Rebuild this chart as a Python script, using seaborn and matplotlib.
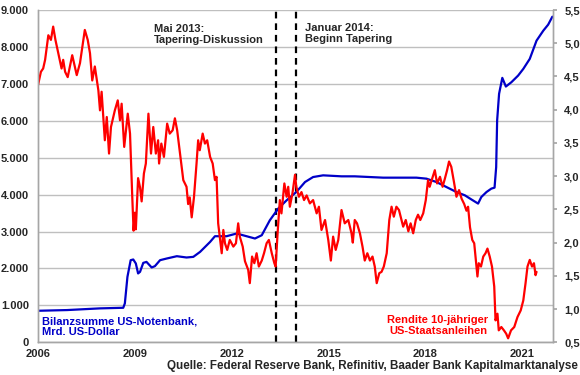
import matplotlib
matplotlib.use("Agg")
import matplotlib.pyplot as plt
from matplotlib.ticker import FuncFormatter, MultipleLocator
import seaborn as sns


# Bilanzsumme US-Notenbank, Mrd. US-Dollar (linke Achse)
fed_years = [2006.00, 2006.90, 2007.92, 2008.64, 2008.69, 2008.77, 2008.87, 2008.95,
             2009.03, 2009.10, 2009.16, 2009.26, 2009.36, 2009.52, 2009.62, 2009.78,
             2009.99, 2010.30, 2010.60, 2010.81, 2011.02, 2011.33, 2011.48, 2011.84,
             2012.15, 2012.46, 2012.72, 2012.93, 2013.18, 2013.44, 2013.70, 2014.00,
             2014.27, 2014.52, 2014.83, 2015.40, 2015.81, 2016.69, 2017.72, 2018.03,
             2018.34, 2018.65, 2018.96, 2019.22, 2019.43, 2019.63, 2019.73, 2019.89,
             2020.04, 2020.14, 2020.19, 2020.22, 2020.28, 2020.38, 2020.49, 2020.66,
             2020.87, 2021.03, 2021.23, 2021.44, 2021.65, 2021.80, 2021.93]
fed_assets = [854, 873, 919, 935, 1054, 1773, 2224, 2243,
              2135, 1865, 1908, 2151, 2178, 2027, 2062, 2224,
              2270, 2332, 2297, 2314, 2449, 2719, 2873, 2873,
              2946, 2873, 2811, 2900, 3305, 3622, 3846, 4070,
              4341, 4476, 4522, 4495, 4495, 4459, 4459, 4432,
              4341, 4205, 4070, 3981, 3865, 3757, 3935, 4070,
              4162, 4189, 4746, 6008, 6730, 7162, 6927, 7043,
              7224, 7405, 7676, 8170, 8441, 8603, 8819]

# Rendite 10-jähriger US-Staatsanleihen in % (rechte Achse)
yield_years = [2006.00, 2006.09, 2006.16, 2006.22, 2006.32, 2006.40, 2006.47, 2006.54,
               2006.65, 2006.73, 2006.78, 2006.84, 2006.92, 2007.06, 2007.20, 2007.30,
               2007.45, 2007.54, 2007.61, 2007.68, 2007.76, 2007.87, 2007.92, 2007.97,
               2008.07, 2008.13, 2008.20, 2008.26, 2008.38, 2008.47, 2008.54, 2008.59,
               2008.67, 2008.78, 2008.85, 2008.92, 2008.96, 2009.00, 2009.03, 2009.10,
               2009.16, 2009.21, 2009.28, 2009.34, 2009.42, 2009.50, 2009.57, 2009.65,
               2009.72, 2009.75, 2009.82, 2009.90, 2010.00, 2010.08, 2010.17, 2010.24,
               2010.31, 2010.40, 2010.50, 2010.60, 2010.65, 2010.70, 2010.76, 2010.83,
               2010.91, 2010.96, 2011.01, 2011.10, 2011.17, 2011.24, 2011.33, 2011.41,
               2011.48, 2011.53, 2011.58, 2011.63, 2011.69, 2011.74, 2011.79, 2011.86,
               2011.94, 2012.05, 2012.13, 2012.20, 2012.25, 2012.34, 2012.41, 2012.51,
               2012.56, 2012.63, 2012.70, 2012.77, 2012.84, 2012.93, 2013.00, 2013.08,
               2013.15, 2013.24, 2013.32, 2013.36, 2013.42, 2013.49, 2013.54, 2013.63,
               2013.70, 2013.75, 2013.80, 2013.88, 2013.96, 2014.00, 2014.08, 2014.16,
               2014.24, 2014.32, 2014.42, 2014.52, 2014.63, 2014.70, 2014.78, 2014.89,
               2014.99, 2015.07, 2015.14, 2015.22, 2015.30, 2015.40, 2015.50, 2015.61,
               2015.71, 2015.75, 2015.81, 2015.88, 2015.97, 2016.05, 2016.12, 2016.20,
               2016.28, 2016.36, 2016.43, 2016.49, 2016.57, 2016.64, 2016.71, 2016.80,
               2016.88, 2016.95, 2017.02, 2017.10, 2017.18, 2017.26, 2017.31, 2017.39,
               2017.47, 2017.54, 2017.62, 2017.70, 2017.77, 2017.84, 2017.93, 2018.01,
               2018.08, 2018.13, 2018.18, 2018.29, 2018.36, 2018.45, 2018.53, 2018.60,
               2018.67, 2018.73, 2018.80, 2018.88, 2018.96, 2019.04, 2019.12, 2019.20,
               2019.27, 2019.32, 2019.38, 2019.45, 2019.51, 2019.55, 2019.61, 2019.65,
               2019.72, 2019.79, 2019.86, 2019.92, 2019.99, 2020.06, 2020.13, 2020.17,
               2020.23, 2020.27, 2020.35, 2020.43, 2020.50, 2020.56, 2020.65, 2020.75,
               2020.85, 2020.95, 2021.03, 2021.10, 2021.16, 2021.23, 2021.30, 2021.36,
               2021.41, 2021.44]
yield_values = [4.37, 4.57, 4.62, 4.75, 5.12, 5.05, 5.25, 5.05,
                4.80, 4.62, 4.75, 4.57, 4.49, 4.82, 4.52, 4.70,
                5.20, 5.05, 4.85, 4.44, 4.65, 4.29, 3.99, 4.27,
                3.54, 3.89, 3.34, 3.74, 3.99, 4.14, 3.84, 4.09,
                3.44, 3.94, 3.64, 2.68, 2.18, 2.45, 2.20, 2.97,
                2.83, 2.62, 3.04, 3.19, 3.94, 3.34, 3.74, 3.34,
                3.54, 3.19, 3.49, 3.29, 3.79, 3.64, 3.69, 3.87,
                3.69, 3.34, 2.94, 2.84, 2.58, 2.68, 2.38, 2.68,
                3.19, 3.54, 3.39, 3.64, 3.49, 3.54, 3.29, 3.19,
                2.94, 2.99, 2.29, 2.09, 1.84, 2.19, 1.99, 1.89,
                2.04, 1.94, 1.99, 2.29, 2.09, 1.94, 1.72, 1.59,
                1.39, 1.79, 1.69, 1.84, 1.64, 1.73, 1.84, 1.99,
                2.04, 1.84, 1.69, 1.64, 2.14, 2.64, 2.44, 2.89,
                2.69, 2.84, 2.54, 2.74, 3.02, 2.84, 2.69, 2.76,
                2.64, 2.71, 2.59, 2.64, 2.44, 2.54, 2.19, 2.34,
                2.04, 1.73, 2.09, 1.89, 2.04, 2.49, 2.29, 2.34,
                2.14, 2.00, 2.34, 2.29, 2.14, 1.94, 1.73, 1.84,
                1.73, 1.79, 1.64, 1.39, 1.54, 1.56, 1.64, 1.84,
                2.34, 2.54, 2.39, 2.54, 2.49, 2.34, 2.24, 2.34,
                2.17, 2.29, 2.14, 2.34, 2.42, 2.34, 2.44, 2.64,
                2.94, 2.84, 2.92, 3.09, 2.89, 2.99, 2.84, 2.96,
                3.09, 3.22, 3.14, 2.92, 2.69, 2.79, 2.66, 2.58,
                2.48, 2.54, 2.23, 2.04, 1.99, 1.79, 1.49, 1.69,
                1.64, 1.79, 1.84, 1.91, 1.79, 1.64, 1.34, 0.83,
                0.93, 0.68, 0.73, 0.68, 0.63, 0.56, 0.68, 0.73,
                0.88, 0.98, 1.13, 1.39, 1.64, 1.74, 1.64, 1.69,
                1.51, 1.56]

year_ticks = [2006, 2009, 2012, 2015, 2018, 2021]
tapering_talk = 2013.37   # Mai 2013
tapering_start = 2014.0   # Januar 2014

W, H = 580, 375
BLUE = "#0000C8"
RED = "#FF0000"
GRID = "#BFBFBF"
SPINE = "#A6A6A6"


def thousands_de(v, pos):
    if v == 0:
        return "0"
    return f"{v:,.0f}".replace(",", ".")


def decimal_de(v, pos):
    return f"{v:.1f}".replace(".", ",")


def fx(px):
    return px / W


def fy(py):
    return 1 - py / H


def plot():
    sns.set_theme(style="white")
    plt.rcParams["font.family"] = ["Liberation Sans", "DejaVu Sans"]
    plt.rcParams["font.weight"] = "bold"
    plt.rcParams["font.size"] = 8

    fig = plt.figure(figsize=(W / 100, H / 100), dpi=100)
    left, right, top, bottom = 38, 553, 10, 342.3
    ax = fig.add_axes([fx(left), fy(bottom), fx(right - left), (bottom - top) / H])

    ax.yaxis.grid(True, color=GRID, linewidth=1)
    ax.set_axisbelow(True)
    sns.lineplot(x=fed_years, y=fed_assets, ax=ax, color=BLUE, linewidth=1.6,
                 estimator=None, sort=False)
    for xv in (tapering_talk, tapering_start):
        ax.axvline(xv, color="black", linewidth=1.6, linestyle=(0, (3, 2.2)), zorder=1)

    ax2 = ax.twinx()
    sns.lineplot(x=yield_years, y=yield_values, ax=ax2, color=RED, linewidth=1.6,
                 estimator=None, sort=False)
    ax2.grid(False)

    ax.set_xlim(2006, 2021.95)
    ax.set_ylim(0, 9000)
    ax2.set_ylim(0.5, 5.5)
    ax.set_xticks(year_ticks)
    ax.set_xticklabels([str(y) for y in year_ticks])
    ax.yaxis.set_major_locator(MultipleLocator(1000))
    ax.yaxis.set_major_formatter(FuncFormatter(thousands_de))
    ax2.yaxis.set_major_locator(MultipleLocator(0.5))
    ax2.yaxis.set_major_formatter(FuncFormatter(decimal_de))

    for a in (ax, ax2):
        a.set_xlabel("")
        a.set_ylabel("")
        a.spines["top"].set_visible(False)
        for s in ("left", "right", "bottom"):
            a.spines[s].set_color(SPINE)
            a.spines[s].set_linewidth(1)
    ax.tick_params(axis="x", length=3, color=SPINE, direction="out", pad=2,
                   labelsize=8)
    ax.tick_params(axis="y", length=0, pad=6.5, labelsize=8)
    ax2.tick_params(axis="y", length=3, color=SPINE, direction="out", pad=5,
                    labelsize=8)
    for lab in ax.get_xticklabels() + ax.get_yticklabels() + ax2.get_yticklabels():
        lab.set_fontweight("bold")

    fig.text(fx(154), fy(24), "Mai 2013:\nTapering-Diskussion", ha="left", va="top",
             fontsize=8, fontweight="bold", linespacing=1.15)
    fig.text(fx(305), fy(23), "Januar 2014:\nBeginn Tapering", ha="left", va="top",
             fontsize=8, fontweight="bold", linespacing=1.15)
    fig.text(fx(42), fy(316), "Bilanzsumme US-Notenbank,\nMrd. US-Dollar", ha="left",
             va="top", fontsize=8, fontweight="bold", color=BLUE, linespacing=1.15)
    fig.text(fx(488), fy(315), "Rendite 10-jähriger\nUS-Staatsanleihen", ha="right",
             va="top", fontsize=8, fontweight="bold", color=RED, linespacing=1.15,
             multialignment="right")
    fig.text(fx(578), fy(366), "Quelle: Federal Reserve Bank, Refinitiv, Baader Bank "
             "Kapitalmarktanalyse", ha="right", va="center", fontsize=8.4,
             fontweight="bold")

    fig.savefig("out.png", dpi=100)


if __name__ == "__main__":
    plot()
